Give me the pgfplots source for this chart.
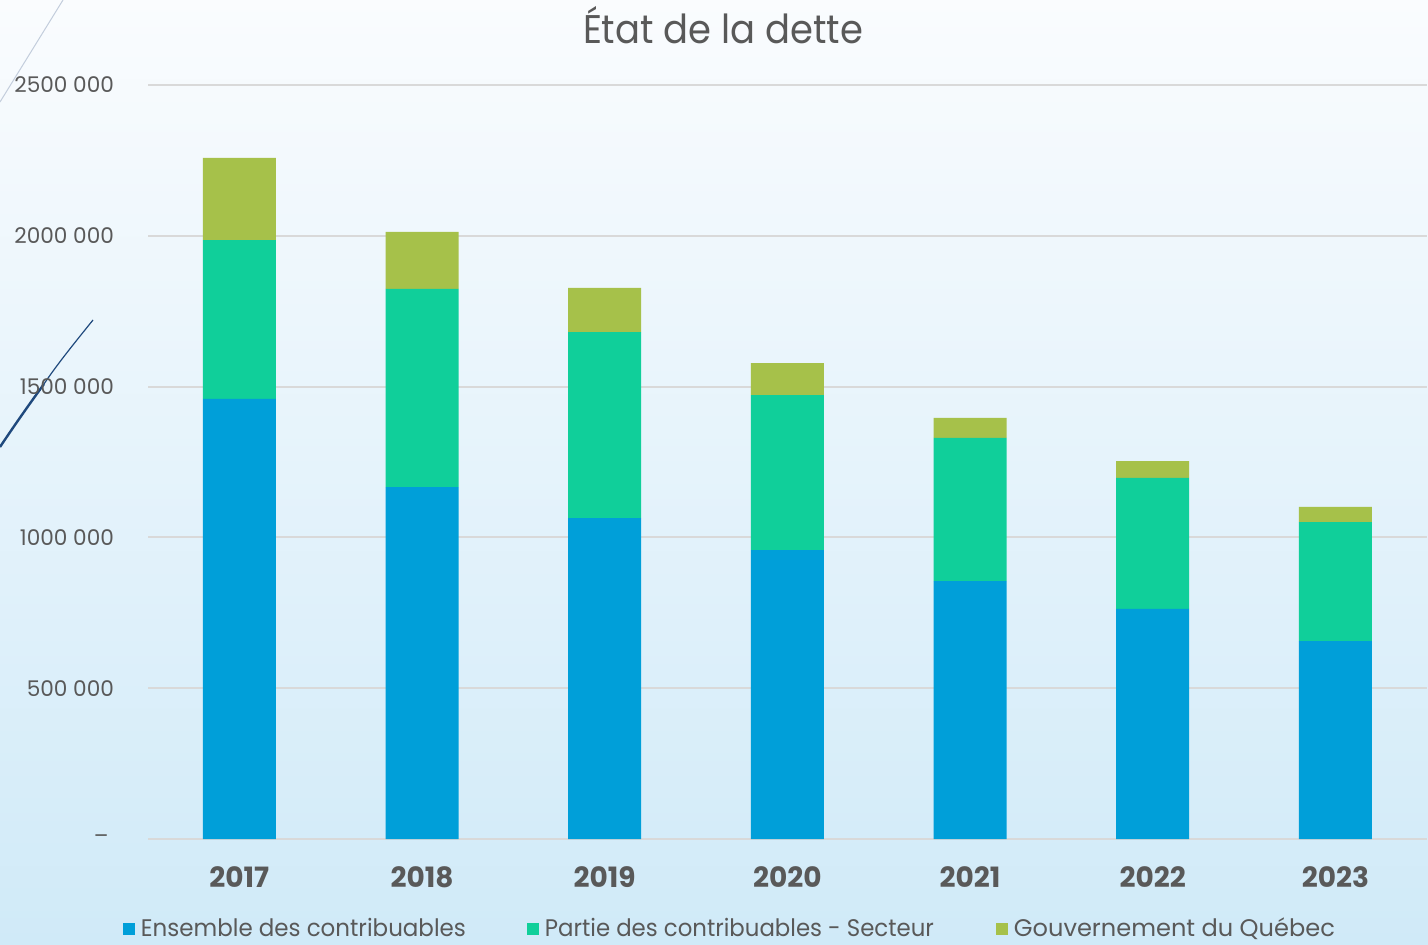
\documentclass[border=0pt]{standalone}
\usepackage{pgfplots}
\pgfplotsset{compat=1.18}
\usepackage{fontspec}
\setmainfont{Poppins}
\usepackage{graphicx}
\definecolor{txt}{HTML}{595959}
\definecolor{cA}{HTML}{009FD9}
\definecolor{cB}{HTML}{10CF9A}
\definecolor{cC}{HTML}{A6C14A}
\definecolor{gridc}{HTML}{D9D9D9}
\definecolor{bgtop}{HTML}{FAFCFE}
\definecolor{bgbot}{HTML}{D0EAF8}
\definecolor{navy}{HTML}{1F497D}
\newcommand{\fitw}[2]{\resizebox{#1}{\height}{#2}}
\newcommand{\zerolab}{\makebox[10pt][l]{\raisebox{-2pt}{\textendash}}}
\begin{document}
\begin{tikzpicture}
\useasboundingbox (0,0) rectangle (714pt,472pt);
\shade[top color=bgtop, bottom color=bgbot] (0,0) rectangle (714pt,472pt);
\draw[color={rgb,255:red,195;green,205;blue,220}, line width=0.5pt] (31.5pt,472pt) -- (0pt,421pt);
\draw[navy, line width=0.6pt] (46.5pt,312pt) .. controls (36pt,299pt) and (28pt,289pt) .. (22pt,280pt);
\draw[navy, line width=1.2pt] (22pt,280pt) .. controls (14pt,269pt) and (7pt,259pt) .. (0pt,248.5pt);
\node[txt, font=\fontsize{20}{24}\selectfont] at (361.5pt,459.5pt) {\fitw{140pt}{État de la dette}};
\begin{axis}[
  at={(74pt,52.5pt)}, anchor=south west,
  scale only axis, width=639.35pt, height=377pt,
  ybar stacked, bar width=36.5pt,
  xmin=-0.5, xmax=6.5, ymin=0, ymax=2500000,
  xtick=data, xticklabels={2017,2018,2019,2020,2021,2022,2023},
  ytick={0,500000,1000000,1500000,2000000,2500000},
  yticklabels={\zerolab, 500 000, 1000 000, 1500 000, 2000 000, 2500 000},
  scaled y ticks=false,
  major tick length=0pt,
  axis line style={draw=none},
  xmajorgrids=false, ymajorgrids=true,
  major grid style={color=gridc, line width=1pt},
  yticklabel style={txt, font=\fontsize{10.8}{13}\selectfont, anchor=east, xshift=-13.5pt},
  xticklabel style={txt, font=\fontsize{14}{16}\selectfont\bfseries, anchor=center, yshift=-19pt},
  legend style={draw=none, fill=none, at={(axis description cs:-0.0196,-0.119)}, anchor=west,
    legend columns=3, inner sep=0pt, outer sep=0pt, nodes={inner sep=0pt, text=txt, font=\fontsize{12}{14}\selectfont},
    /tikz/every odd column/.append style={column sep=3pt}},
  legend image code/.code={\fill[#1] (0pt,-3pt) rectangle (6pt,3pt);},
]
\addplot[fill=cA, draw=none] coordinates {(0,1459000) (1,1167000) (2,1064000) (3,958000) (4,855000) (5,763000) (6,656000)};
\addplot[fill=cB, draw=none] coordinates {(0,527000) (1,657000) (2,617000) (3,514000) (4,475000) (5,434000) (6,395000)};
\addplot[fill=cC, draw=none] coordinates {(0,272000) (1,189000) (2,146000) (3,106000) (4,66000) (5,56000) (6,50000)};
\draw[gridc, line width=1pt] (axis cs:-0.5,0) -- (axis cs:6.5,0);
\legend{\makebox[193pt][l]{\fitw{162.5pt}{Ensemble des contribuables}},
        \makebox[225.5pt][l]{\fitw{194.5pt}{Partie des contribuables - Secteur}},
        \fitw{160.5pt}{Gouvernement du Québec}}
\end{axis}
\end{tikzpicture}
\end{document}
